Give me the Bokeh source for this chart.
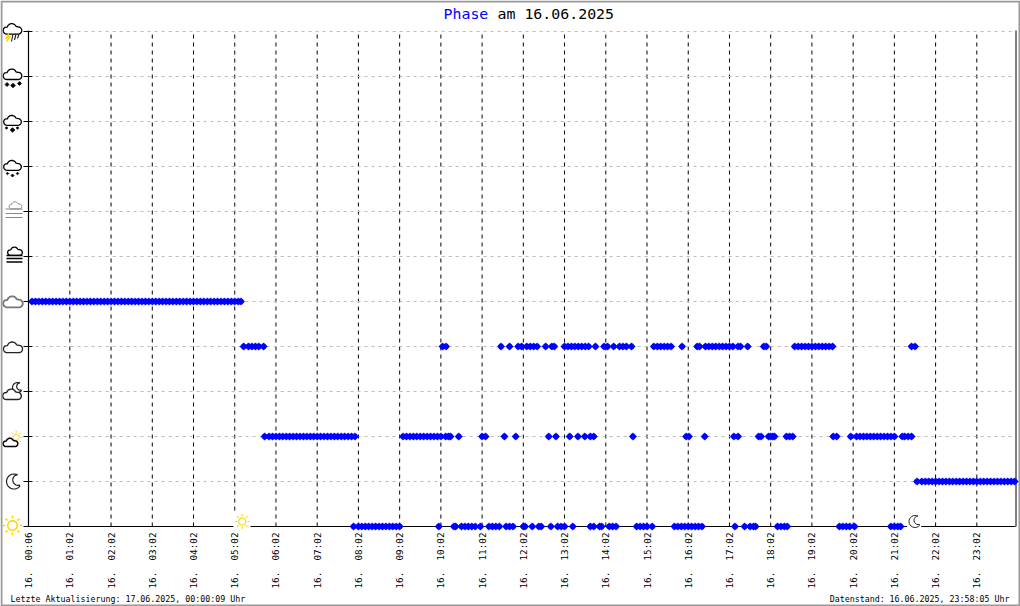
import math
from bokeh.plotting import figure
from bokeh.embed import file_html
from bokeh.resources import INLINE
from bokeh.models import FixedTicker, PolyAnnotation, Label, BoxAnnotation, Range1d

hour_ticks = [0, 12, 24, 36, 48, 60, 72, 84, 96, 108, 120, 132, 144, 156, 168, 180, 192, 204, 216, 228, 240, 252, 264, 276]
hour_labels = ["00:06", "01:02", "02:02", "03:02", "04:02", "05:02", "06:02", "07:02", "08:02", "09:02", "10:02", "11:02",
               "12:02", "13:02", "14:02", "15:02", "16:02", "17:02", "18:02", "19:02", "20:02", "21:02", "22:02", "23:02"]
levels = list(range(12))

# sample positions per phase level
phase5 = [1, 2, 3, 4, 5, 6, 7, 8, 9, 10, 11, 12, 13, 14, 15, 16, 17, 18, 19, 20, 21, 22, 23, 24, 25, 26, 27, 28, 29, 30,
          31, 32, 33, 34, 35, 36, 37, 38, 39, 40, 41, 42, 43, 44, 45, 46, 47, 48, 49, 50, 51, 52, 53, 54, 55, 56, 57, 58, 59, 60, 61, 61.8]
phase4 = [62.6, 64, 65, 66, 67, 68.4, 120.5, 121.5, 137.5, 140, 142.5, 143.5, 145, 146, 147, 148, 150.5, 152.3, 153,
          156, 157, 158, 159, 160, 161, 162, 163, 165, 167.5, 168.5, 170.3, 172, 173, 174, 175.5, 182, 183, 184, 185, 186, 187,
          190.2, 194.6, 195.3, 197, 198, 199, 200, 201, 202, 203, 204, 205, 206.5, 207.2, 209.3, 214, 214.7,
          223, 224, 225, 226, 227, 228, 229, 230, 231, 232, 233, 234, 257, 258]
phase2 = [68.7, 70, 71, 72, 73, 74, 75, 76, 77, 78, 79, 80, 81, 82, 83, 84, 85, 86, 87, 88, 89, 90, 91, 92, 93, 94, 95,
          109, 110, 111, 112, 113, 114, 115, 116, 117, 118, 119, 120, 121.4, 122.2, 122.8, 125.2, 132, 133, 138.5, 141.8,
          151.4, 153.5, 157.5, 159.9, 161.9, 163.5, 164.5, 175.9, 191.4, 192.2, 196.8, 205.3, 206.5, 212.5, 213.2,
          215.4, 216, 216.6, 217.1, 220.6, 221.5, 222.4, 234.2, 235.2, 239.3, 241, 242, 243, 244, 245, 246, 247, 248, 249, 250, 251, 252,
          254.3, 255, 256, 257]
phase1 = [258.6, 260, 261, 262, 263, 264, 265, 266, 267, 268, 269, 270, 271, 272, 273, 274, 275, 276, 277, 278, 279, 280, 281, 282, 283, 284, 285, 286, 287]
phase0 = [94.6, 96, 97, 98, 99, 100, 101, 102, 103, 104, 105, 106, 107, 108, 119.4, 123.8, 124.3, 126, 127, 128, 129, 130, 131.5,
          134, 135, 136, 137, 139, 140, 141, 144, 144.5, 146.6, 148.5, 149.2, 152, 154, 155, 156, 158.4, 163.5, 164.5, 166.2, 166.8,
          169, 170, 171, 177, 178, 179, 180, 181.5, 188, 189, 190, 191, 192, 193, 194, 195, 196, 205.6, 208.4, 210, 211, 211.6,
          218, 219, 220, 220.8, 236, 237, 238, 239, 240.4, 251, 252, 253, 253.8]

series = [(0, phase0), (1, phase1), (2, phase2), (4, phase4), (5, phase5)]

title_word = "Phase"
title_rest = "am 16.06.2025"
footer_left = "Letzte Aktualisierung: 17.06.2025, 00:00:09 Uhr"
footer_right = "Datenstand: 16.06.2025, 23:58:05 Uhr"

MONO = "DejaVu Sans Mono"
W, H = 1020, 606
X0, DX = 28.1, 3.4356     # canvas x of sample 0, pixels per sample
Y0, DY = 526.0, 45.0      # canvas y of level 0, pixels per level
X_END, Y_END = 287.0, 11.02
p = figure(width=W, height=H, output_backend="svg", toolbar_location=None,
           x_range=Range1d((0 - X0) / DX, (W - X0) / DX), y_range=Range1d((Y0 - H) / DY, Y0 / DY),
           min_border_left=0, min_border_right=0, min_border_top=0, min_border_bottom=0,
           background_fill_color="white", border_fill_color="white")
p.outline_line_color = None

p.xaxis.fixed_location = 0
p.xaxis.bounds = (0, 287.3)
p.xaxis.ticker = FixedTicker(ticks=hour_ticks)
p.xaxis.major_label_overrides = {t: "16.\u00a0\u00a0" + l for t, l in zip(hour_ticks, hour_labels)}
p.xaxis.major_label_orientation = math.pi / 2
p.xaxis.major_label_text_font = MONO
p.xaxis.major_label_text_font_size = "9.3px"
p.xaxis.major_label_text_color = "black"
p.xaxis.major_label_standoff = 0
p.xaxis.major_tick_line_color = None
p.xaxis.minor_tick_line_color = None
p.xaxis.axis_line_color = "black"
p.xaxis.axis_line_width = 1.2

p.yaxis.fixed_location = 0
p.yaxis.bounds = (0, Y_END)
p.yaxis.ticker = FixedTicker(ticks=levels)
p.yaxis.major_label_overrides = {l: "" for l in levels}
p.yaxis.major_tick_in = 4
p.yaxis.major_tick_out = 5
p.yaxis.minor_tick_line_color = None
p.yaxis.axis_line_color = "black"
p.yaxis.axis_line_width = 1.2
p.yaxis.major_tick_line_color = "black"

p.xgrid.visible = False
p.ygrid.visible = False
p.segment(hour_ticks[1:], [0] * 23, hour_ticks[1:], [Y_END] * 23, line_color="black", line_width=1, line_dash="4 4")
p.segment([0] * 11, levels[1:], [X_END] * 11, levels[1:], line_color="#bbbbbb", line_width=1, line_dash="3 4")

for lev, xs in series:
    ys = [lev] * len(xs)
    p.scatter(xs, ys, marker="hex", size=6, fill_color="#0000ff", line_color="#0000ff", line_width=0.3, level="overlay")
    p.scatter(xs, ys, marker="square", size=5.4, angle=math.pi / 4,
              fill_color="#0000ff", line_color="#0000ff", line_width=0.3, level="overlay")


def poly(pts, color="black", lw=1.3, fill=None):
    p.add_layout(PolyAnnotation(xs=[a for a, _ in pts], ys=[b for _, b in pts], xs_units="canvas", ys_units="canvas",
                                line_color=color, line_width=lw, line_alpha=1,
                                fill_color=fill or "white", fill_alpha=1 if fill else 0))


def arc(cx, cy, r, a0, a1, n=10):
    return [(cx + r * math.cos(math.radians(a0 + (a1 - a0) * k / n)),
             cy - r * math.sin(math.radians(a0 + (a1 - a0) * k / n))) for k in range(n + 1)]


def cloud(cx, cy, w, color="black", lw=1.3, fill=None):
    pts = arc(cx - .30 * w, cy, .19 * w, 270, 120) + arc(cx - .04 * w, cy - .11 * w, .25 * w, 165, 25) + arc(cx + .30 * w, cy, .19 * w, 95, -90)
    poly(pts, color, lw, fill)


def sun(cx, cy, r, rr0, rr1, color="#ffd500", lw=1.5):
    poly(arc(cx, cy, r, 0, 360, 16), color, lw)
    for k in range(8):
        a = math.radians(k * 45)
        poly([(cx + rr0 * math.cos(a), cy + rr0 * math.sin(a)), (cx + rr1 * math.cos(a), cy + rr1 * math.sin(a))], color, lw)


def moon(cx, cy, r, color="black", lw=1.2, fill=None):
    poly(arc(cx, cy, r, 75, 320, 16) + arc(cx + .55 * r, cy - .2 * r, .72 * r, 285, 95, 10), color, lw, fill)


def hline(x0, x1, y, color="black", lw=1.2):
    poly([(x0, y), (x1, y)], color, lw)


def flake(cx, cy, r, color="black"):
    poly([(cx, cy - r), (cx + r, cy), (cx, cy + r), (cx - r, cy)], color, 0.8, color)


# level icons, drawn in canvas pixels next to the axis
sun(12, 525, 4.8, 7, 10)
moon(13.5, 481, 7.5, "#222222", 1.2)
sun(15.7, 436.7, 3, 4.5, 6.5, lw=1)
cloud(10, 443.2, 15, "black", 1.5, "white")
moon(17, 387, 5, "#222222", 1.2)
cloud(11.5, 395.4, 19, "#222222", 1.4, "white")
cloud(12.5, 348.5, 19.5, "#222222", 1.3)
cloud(12.5, 303, 20, "#777777", 1.8)
cloud(14.5, 252, 15, "black", 1.3)
for y in (255, 258, 261.5):
    hline(6, 22, y, "black", 1.3)
cloud(15, 206, 13, "#888888", 1)
for y in (208.5, 213, 217):
    hline(5, 22, y, "#888888", 1)
cloud(12, 166.4, 18, "black", 1.3)
for x, y, r in ((7, 173, 1.3), (12, 175, 1.5), (17, 173, 1.3)):
    flake(x, y, r)
cloud(12, 121.4, 18, "black", 1.3)
for x, y, r in ((6, 127.5, 1.3), (12, 129.5, 2.3), (17, 127.5, 1.3)):
    flake(x, y, r)
cloud(12, 75.4, 19, "black", 1.3)
for x, y, r in ((6.5, 84, 2), (12.5, 85, 2.3), (19, 83, 2)):
    flake(x, y, r)
cloud(12, 30, 19, "black", 1.3)
poly([(8, 33), (5, 38), (7, 38), (6, 41.5), (10, 36), (8, 36)], "#ffd500", 0.8, "#ffd500")
for x0, x1, y1 in ((12.5, 11, 41), (15.5, 14, 39.5), (18.5, 17, 38)):
    poly([(x0, 33.5), (x1, y1)], "#222222", 1.1)

# day markers sitting on the axis
p.add_layout(BoxAnnotation(left=233, right=250, top=513, bottom=529, left_units="canvas", right_units="canvas",
                           top_units="canvas", bottom_units="canvas", fill_color="white", fill_alpha=1, line_alpha=0))
sun(241.7, 521, 3.5, 5, 7.5, lw=1.1)
p.add_layout(BoxAnnotation(left=906.7, right=920.7, top=513, bottom=529, left_units="canvas", right_units="canvas",
                           top_units="canvas", bottom_units="canvas", fill_color="white", fill_alpha=1, line_alpha=0))
moon(914.5, 521, 6, "#222222", 1)

# right frame edge and outer border
poly([(1015.5, 30), (1015.5, 526)], "black", 1)
poly([(1, 1), (1019, 1), (1019, 605), (1, 605)], "#999999", 2)


def text(x, y, s, size, color="black", align="left", baseline="middle"):
    p.add_layout(Label(x=x, y=y, x_units="canvas", y_units="canvas", text=s, text_font=MONO, text_font_size=size,
                       text_color=color, text_align=align, text_baseline=baseline))


text(443, 13, title_word, "14.9px", "#0000ff")
text(497, 13, title_rest, "14.9px", "black")
text(10, 598.5, footer_left, "8.3px")
text(1009, 598.5, footer_right, "8.3px", align="right")

open("out.html", "w").write(file_html(p, INLINE))
